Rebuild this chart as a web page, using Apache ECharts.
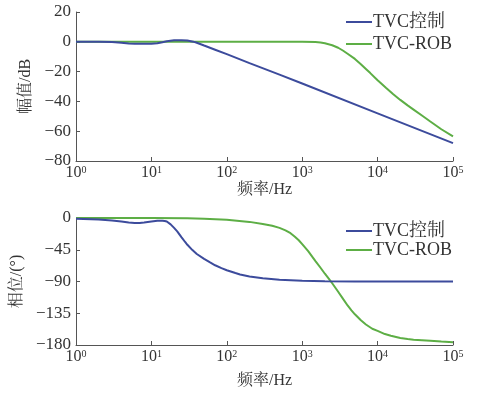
<!DOCTYPE html>
<html><head><meta charset="utf-8">
<script src="https://cdn.jsdelivr.net/npm/echarts@6/dist/echarts.min.js"></script>
<style>html,body{margin:0;padding:0;background:#fff}#c{width:481px;height:395px}</style>
</head><body><div id="c"></div>
<script>
// ---- data ----
const seriesNames = ['TVC控制', 'TVC-ROB'];
const xName = '频率/Hz';
const magName = '幅值/dB';
const phaseName = '相位/(°)';

const magFreqTVC = [1, 2, 3, 4, 5, 6, 10, 12, 14, 16, 20, 25, 30, 36, 40, 50, 70, 100, 200, 500, 1000, 10000, 100000];
const magTVC     = [0, 0, -0.2, -0.7, -1.1, -1.3, -1.3, -1, -0.3, 0.4, 1.0, 1.1, 0.8, 0.1, -0.6, -2.5, -5.3, -8.3, -14.3, -22, -28, -48, -68];

const magFreqROB = [1, 1000, 1500, 1750, 2000, 2500, 3000, 3500, 4000, 5000, 6000, 7000, 8000, 10000, 13000, 16000, 20000, 25000, 30000, 40000, 50000, 70000, 100000];
const magROB     = [0, 0, -0.2, -0.5, -1, -2.3, -4, -6, -8, -11.5, -15, -18.2, -21, -25.8, -31, -35, -39, -42.7, -45.5, -50, -53.5, -58.7, -63.5];

const phFreqTVC = [1, 2, 3, 4, 5, 6, 7, 8, 10, 12, 14, 15, 16, 17, 18, 20, 22, 25, 28, 30, 35, 40, 50, 60, 70, 85, 100, 130, 150, 200, 300, 500, 1000, 2000, 5000, 100000];
const phTVC     = [-1, -2, -3.5, -5, -6.5, -7, -7, -6.5, -5, -4, -3.8, -4.2, -5, -7, -9, -14, -19, -27, -34, -38, -45.5, -51, -58, -63, -67, -71, -74, -78, -80, -83, -85.5, -87.5, -89, -89.7, -90, -90];

const phFreqROB = [1, 10, 30, 50, 100, 200, 300, 400, 500, 600, 700, 800, 900, 1000, 1200, 1500, 1750, 2000, 2250, 2500, 3000, 3500, 4000, 4500, 5000, 6000, 7000, 8500, 10000, 12500, 15000, 20000, 25000, 30000, 50000, 70000, 100000];
const phROB     = [0, 0, -0.5, -1, -2.5, -5.5, -8.5, -11, -14, -17.5, -21.5, -26.5, -31.5, -37, -47, -61, -70.5, -79, -86, -92.5, -104.5, -115, -124, -131, -136.5, -145, -151, -157, -160, -164.5, -167, -170, -171.5, -172.5, -174, -175, -176];

const magTicks = {min: -80, max: 20, interval: 20};
const phTicks = {min: -180, max: 0, interval: 45};

// ---- styles ----
const blue = '#3c4b9c', green = '#5dae45';
const serif = "'Liberation Serif', 'Noto Serif CJK SC', 'Noto Sans CJK SC', serif";
const axisCol = '#555', txtCol = '#333';

function zip(a, b) { return a.map((v, i) => [v, b[i]]); }

function xAxisCfg(gi, gap) {
  return {
    type: 'log', logBase: 10, min: 1, max: 100000, gridIndex: gi,
    name: xName, nameLocation: 'middle', nameGap: gap,
    nameTextStyle: {fontFamily: serif, fontSize: 16, color: txtCol},
    axisLine: {onZero: false, lineStyle: {color: axisCol}},
    axisTick: {inside: true, length: 4, lineStyle: {color: axisCol}},
    minorTick: {show: false}, splitLine: {show: false},
    axisLabel: {
      margin: 4,
      formatter: v => '{b|10}{s|' + Math.round(Math.log10(v)) + '}',
      rich: {
        b: {fontFamily: serif, fontSize: 16, color: txtCol, verticalAlign: 'bottom'},
        s: {fontFamily: serif, fontSize: 10, color: txtCol, verticalAlign: 'top'}
      }
    }
  };
}
function yAxisCfg(gi, t, name, gap) {
  return {
    type: 'value', gridIndex: gi, min: t.min, max: t.max, interval: t.interval,
    name: name, nameLocation: 'middle', nameGap: gap,
    nameTextStyle: {fontFamily: serif, fontSize: 16, color: txtCol},
    axisLine: {show: true, onZero: false, lineStyle: {color: axisCol}},
    axisTick: {show: true, inside: true, length: 4, lineStyle: {color: axisCol}},
    splitLine: {show: false},
    axisLabel: {margin: 5, fontFamily: serif, fontSize: 17, color: txtCol,
      formatter: v => String(v).replace('-', '\u2212')}
  };
}
function lineSeries(name, xi, data, color) {
  return {name: name, type: 'line', xAxisIndex: xi, yAxisIndex: xi, data: data,
    showSymbol: false, symbol: 'none', smooth: false,
    lineStyle: {color: color, width: 2}, itemStyle: {color: color}};
}
function legendCfg(top, gap) {
  return {left: 341, top: top, orient: 'vertical', itemGap: gap, icon: 'rect',
    itemWidth: 26, itemHeight: 2, data: seriesNames,
    textStyle: {fontFamily: serif, fontSize: 18, color: txtCol, padding: [0, 0, 0, -4]}};
}

const chart = echarts.init(document.getElementById('c'));
chart.setOption({
  animation: false,
  backgroundColor: '#fff',
  grid: [
    {left: 76, top: 12, width: 377, height: 149},
    {left: 76, top: 218, width: 377, height: 127}
  ],
  legend: [legendCfg(8, 4), legendCfg(217, 1)],
  xAxis: [xAxisCfg(0, 19), xAxisCfg(1, 28)],
  yAxis: [yAxisCfg(0, magTicks, magName, 42), yAxisCfg(1, phTicks, phaseName, 46)],
  series: [
    lineSeries(seriesNames[1], 0, zip(magFreqROB, magROB), green),
    lineSeries(seriesNames[0], 0, zip(magFreqTVC, magTVC), blue),
    lineSeries(seriesNames[1], 1, zip(phFreqROB, phROB), green),
    lineSeries(seriesNames[0], 1, zip(phFreqTVC, phTVC), blue)
  ]
});
</script></body></html>
